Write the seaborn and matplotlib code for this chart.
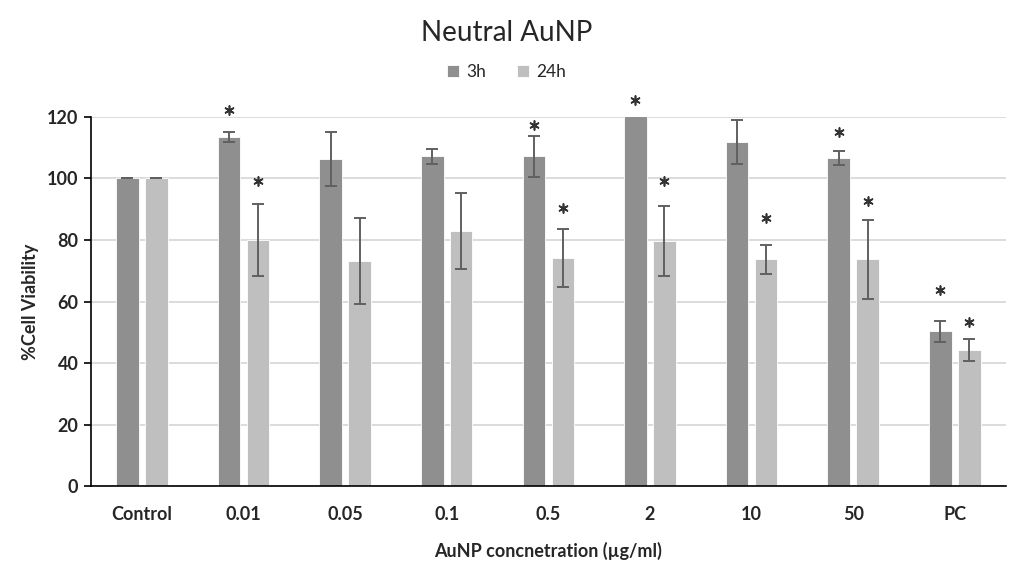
import matplotlib
matplotlib.use("Agg")
import matplotlib.pyplot as plt
import seaborn as sns
import numpy as np
import pandas as pd

# values
categories = ['Control', '0.01', '0.05', '0.1', '0.5', '2', '10', '50', 'PC']
series = ['3h', '24h']
viability_3h = [100, 113.5, 106.3, 107.2, 107.2, 125, 111.8, 106.6, 50.4]
viability_24h = [100, 80.0, 73.3, 83.0, 74.1, 79.7, 73.7, 73.7, 44.2]
err_3h = [0, 1.7, 8.7, 2.5, 6.6, 0, 7.2, 2.2, 3.4]
err_24h = [0, 11.8, 14.0, 12.4, 9.5, 11.4, 4.6, 12.8, 3.5]
# height of the significance stars (data units), None = no star
star_3h = [None, 122.3, None, None, 117.4, 125.5, None, 115.0, 63.7]
star_24h = [None, 99.0, None, None, 90.3, 99.0, 87.3, 92.5, 53.2]

colors = {'3h': '#8f8f8f', '24h': '#bfbfbf'}

sns.set_theme(style="white")
plt.rcParams['font.family'] = ['Lato', 'DejaVu Sans']

df = pd.DataFrame({
    'conc': categories * 2,
    'time': ['3h'] * len(categories) + ['24h'] * len(categories),
    'value': viability_3h + viability_24h,
})

fig = plt.figure(figsize=(10.13, 5.70), dpi=100)
ax = fig.add_axes([0.0898, 0.147, 0.903, 0.648])

sns.barplot(data=df, x='conc', y='value', hue='time', order=categories,
            hue_order=series, palette=colors, width=0.57, gap=0.22,
            errorbar=None, edgecolor='white', linewidth=0.6, ax=ax, zorder=2)

# error bars and stars on top of each bar
for cont, errs, stars in zip(ax.containers, [err_3h, err_24h], [star_3h, star_24h]):
    xs = [p.get_x() + p.get_width() / 2 for p in cont.patches]
    hs = [p.get_height() for p in cont.patches]
    ax.errorbar(xs, hs, yerr=errs, fmt='none', ecolor='#606060',
                elinewidth=1.4, capsize=4.5, capthick=1.4, zorder=3)
    sx = [x for x, s in zip(xs, stars) if s is not None]
    sy = [s for s in stars if s is not None]
    ax.scatter(sx, sy, marker=(6, 2, 0), s=42, color='#333333',
               linewidths=1.2, clip_on=False, zorder=4)

ax.set_ylim(0, 120)
ax.set_xlim(-0.5, len(categories) - 0.5)
ax.set_yticks(np.arange(0, 121, 20))
ax.yaxis.grid(True, color='#d9d9d9', linewidth=1.3, zorder=0)
ax.set_axisbelow(True)

for side in ['top', 'right']:
    ax.spines[side].set_visible(False)
for side in ['left', 'bottom']:
    ax.spines[side].set_color('black')
    ax.spines[side].set_linewidth(1.2)

# x ticks sit between categories, labels at the centres
ax.set_xticks(np.arange(-0.5, len(categories), 1), minor=True)
ax.tick_params(axis='x', which='major', length=0, pad=14)
ax.tick_params(axis='x', which='minor', length=6, width=1.2, color='black', direction='out')
ax.tick_params(axis='y', length=5, width=1.2, color='black', direction='out', left=True, pad=4)
ax.set_xticks(range(len(categories)))
ax.set_xticklabels(categories, fontsize=13, fontweight='bold')
for lbl in ax.get_yticklabels():
    lbl.set_fontsize(13)
    lbl.set_fontweight('bold')

ax.set_xlabel('AuNP concnetration (µg/ml)', fontsize=13, fontweight='bold', labelpad=14)
ax.set_ylabel('%Cell Viability', fontsize=13, fontweight='bold', labelpad=6)

fig.suptitle('Neutral AuNP', y=0.965, fontsize=20)
handles, labels = ax.get_legend_handles_labels()
ax.legend(handles, labels, loc='center', bbox_to_anchor=(0.5, 0.873), bbox_transform=fig.transFigure,
          ncol=2, frameon=False, fontsize=12.5, handlelength=0.7, handleheight=0.7,
          columnspacing=1.8, handletextpad=0.4)

fig.savefig('out.png', dpi=100)
